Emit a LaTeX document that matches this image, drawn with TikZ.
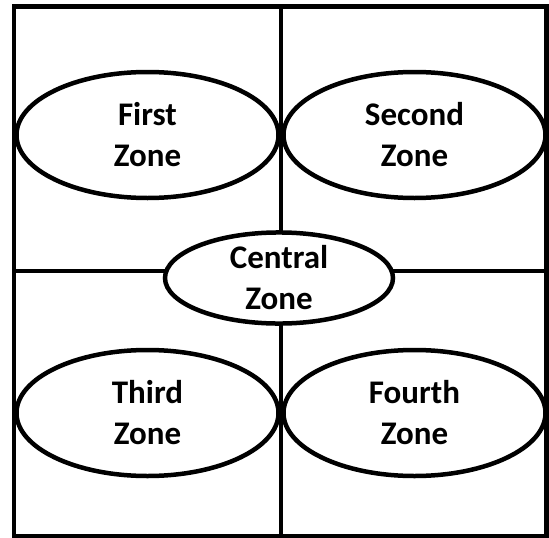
\documentclass[tikz,border=0pt]{standalone}
\usepackage{fontspec}
\setmainfont{Carlito}
\usetikzlibrary{shapes.geometric}
\begin{document}
\begin{tikzpicture}[x=1pt,y=-1pt,
  frame/.style={line width=4.5pt},
  zone/.style={ellipse, draw, fill=white, line width=4.5pt, inner sep=0pt,
    align=center, font=\fontsize{33}{41}\selectfont\bfseries},
  bigzone/.style={zone, minimum width=262pt, minimum height=126pt},
  midzone/.style={zone, minimum width=228pt, minimum height=84pt}]
\useasboundingbox (0,0) rectangle (549,538);
\draw[frame] (14,6.5) rectangle (546.5,536);
\draw[frame] (281,6.5) -- (281,536);
\draw[frame] (14,271) -- (546.5,271);
\node[bigzone] (first) at (147.5,135) {First\\Zone};
\node[bigzone] (second) at (414.5,135) {Second\\Zone};
\node[bigzone] (third) at (147.5,413) {Third\\Zone};
\node[bigzone] (fourth) at (414.5,413) {Fourth\\Zone};
\node[midzone] (central) at (279,278) {Central\\Zone};
\end{tikzpicture}
\end{document}
